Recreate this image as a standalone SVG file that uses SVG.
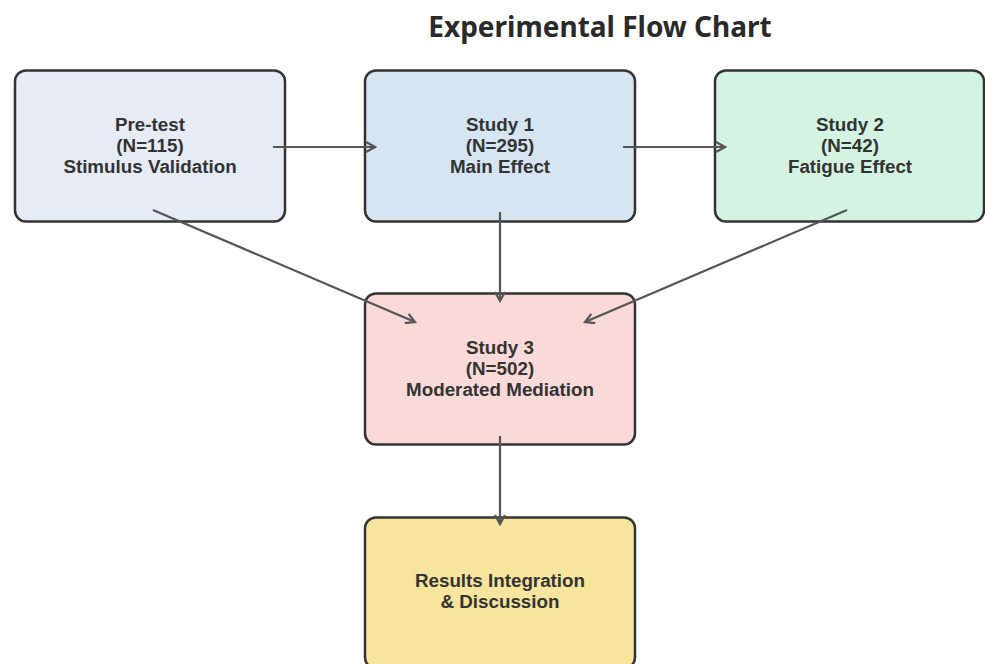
<svg xmlns="http://www.w3.org/2000/svg" width="985" height="664" viewBox="0 0 985 664">
<defs>
<style>
.box{stroke:#333;stroke-width:2.5}
.lbl{font-family:"Liberation Sans",Arial,sans-serif;font-weight:bold;font-size:18.8px;fill:#333;text-anchor:middle}
.ttl{font-family:"Noto Sans","Open Sans","Liberation Sans",sans-serif;font-weight:bold;font-size:28px;fill:#2a2a2a;text-anchor:middle}
.edge{stroke:#555;stroke-width:2.2;fill:none;marker-end:url(#ah)}
</style>
<marker id="ah" viewBox="0 0 12 12" refX="10" refY="6" markerWidth="12" markerHeight="12" markerUnits="userSpaceOnUse" orient="auto">
<path d="M1,1 L10,6 L1,11" fill="none" stroke="#555" stroke-width="2.2"/>
</marker>
</defs>
<rect width="985" height="664" fill="#fff"/>
<text class="ttl" x="600" y="37">Experimental Flow Chart</text>
<g id="pretest">
<rect class="box" x="15" y="70.5" width="270" height="151" rx="11" fill="#e6ecf5"/>
<text class="lbl" x="150" y="131">Pre-test</text>
<text class="lbl" x="150" y="152">(N=115)</text>
<text class="lbl" x="150" y="173">Stimulus Validation</text>
</g>
<g id="study1">
<rect class="box" x="365" y="70.5" width="270" height="151" rx="11" fill="#d5e5f1"/>
<text class="lbl" x="500" y="131">Study 1</text>
<text class="lbl" x="500" y="152">(N=295)</text>
<text class="lbl" x="500" y="173">Main Effect</text>
</g>
<g id="study2">
<rect class="box" x="715" y="70.5" width="269" height="151" rx="11" fill="#d4f3e2"/>
<text class="lbl" x="850" y="131">Study 2</text>
<text class="lbl" x="850" y="152">(N=42)</text>
<text class="lbl" x="850" y="173">Fatigue Effect</text>
</g>
<g id="study3">
<rect class="box" x="365" y="293.5" width="270" height="151" rx="11" fill="#f9dad8"/>
<text class="lbl" x="500" y="354">Study 3</text>
<text class="lbl" x="500" y="375">(N=502)</text>
<text class="lbl" x="500" y="396">Moderated Mediation</text>
</g>
<g id="results">
<rect class="box" x="365" y="517.5" width="270" height="151" rx="11" fill="#f7e49d"/>
<text class="lbl" x="500" y="587">Results Integration</text>
<text class="lbl" x="500" y="608">&amp; Discussion</text>
</g>
<g id="connectors">
<line class="edge" x1="273" y1="147" x2="375" y2="147"/>
<line class="edge" x1="623" y1="147" x2="725" y2="147"/>
<line class="edge" x1="153" y1="210" x2="415" y2="322"/>
<line class="edge" x1="500" y1="212" x2="500" y2="301"/>
<line class="edge" x1="847" y1="210" x2="585" y2="322"/>
<line class="edge" x1="500" y1="436" x2="500" y2="524"/>
</g>
</svg>
